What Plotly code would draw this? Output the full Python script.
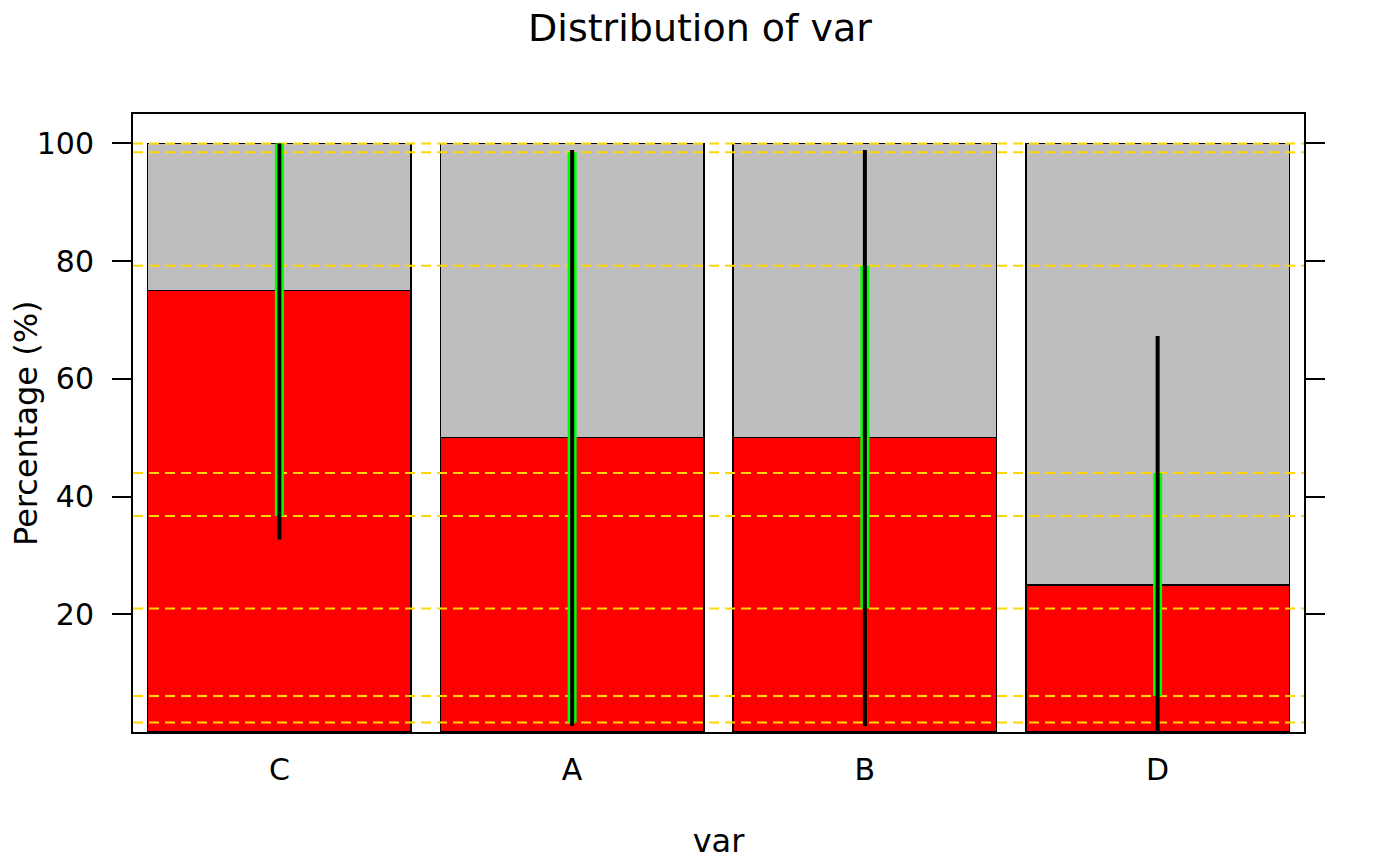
import plotly.graph_objects as go

categories = ["C", "A", "B", "D"]
pct_values = [75, 50, 50, 25]
rest_values = [25, 50, 50, 75]
black_lo = [32.7, 1.0, 1.0, 0.0]
black_hi = [100.0, 98.9, 98.9, 67.3]
green_lo = [36.7, 1.6, 21.0, 6.1]
green_hi = [100.0, 98.5, 79.2, 44.0]
y_ticks = [20, 40, 60, 80, 100]

xpos = list(range(1, len(categories) + 1))
FONT = "DejaVu Sans"

fig = go.Figure()
fig.add_trace(go.Bar(x=xpos, y=pct_values, width=0.9, marker=dict(color="#FF0000", line=dict(color="black", width=1.3)),
                     showlegend=False, hoverinfo="skip"))
fig.add_trace(go.Bar(x=xpos, y=rest_values, width=0.9, marker=dict(color="#BEBEBE", line=dict(color="black", width=1.3)),
                     showlegend=False, hoverinfo="skip"))

# yellow reference lines at green interval bounds
hx, hy = [], []
for v in green_lo + green_hi:
    hx += [0.5, 4.5, None]
    hy += [v, v, None]
fig.add_trace(go.Scatter(x=hx, y=hy, mode="lines", line=dict(color="#FFD700", width=2, dash="10px,6px"),
                         showlegend=False, hoverinfo="skip"))

gx, gy = [], []
for i, x in enumerate(xpos):
    gx += [x, x, None]
    gy += [green_lo[i], green_hi[i], None]
fig.add_trace(go.Scatter(x=gx, y=gy, mode="lines", line=dict(color="#00FF00", width=9),
                         showlegend=False, hoverinfo="skip"))

bx, by = [], []
for i, x in enumerate(xpos):
    bx += [x, x, None]
    by += [black_lo[i], black_hi[i], None]
fig.add_trace(go.Scatter(x=bx, y=by, mode="lines", line=dict(color="black", width=4),
                         showlegend=False, hoverinfo="skip"))

fig.update_layout(
    barmode="stack",
    width=1400, height=866,
    margin=dict(l=133, r=96, t=114, b=134, autoexpand=False),
    paper_bgcolor="white", plot_bgcolor="white",
    font=dict(family=FONT, color="black"),
    title=dict(text="Distribution of var", x=0.5, xref="container", xanchor="center",
               y=1 - 28 / 866, yref="container", yanchor="middle", font=dict(size=38, family=FONT, color="black")),
    xaxis=dict(range=[0.5, 4.5], tickvals=xpos, ticktext=categories, ticks="", showgrid=False, zeroline=False,
               showline=True, linecolor="black", linewidth=2, mirror=True, automargin=False,
               tickfont=dict(size=30), ticklabelstandoff=10,
               title=dict(text="var", font=dict(size=32), standoff=44)),
    yaxis=dict(range=[0, 105], tickvals=y_ticks, ticks="outside", ticklen=19, tickwidth=2, tickcolor="black",
               showgrid=False, zeroline=False, showline=True, linecolor="black", linewidth=2, mirror="ticks",
               automargin=False, tickfont=dict(size=30), ticklabelstandoff=12),
    annotations=[dict(text="Percentage (%)", textangle=-90, xref="paper", yref="paper", x=0, y=0.5,
                      xanchor="center", yanchor="middle", xshift=-107, showarrow=False,
                      font=dict(size=32, family=FONT, color="black"))],
)

fig.write_html("out.html", config={"displayModeBar": False},
               post_script="document.body.style.margin='0';")
